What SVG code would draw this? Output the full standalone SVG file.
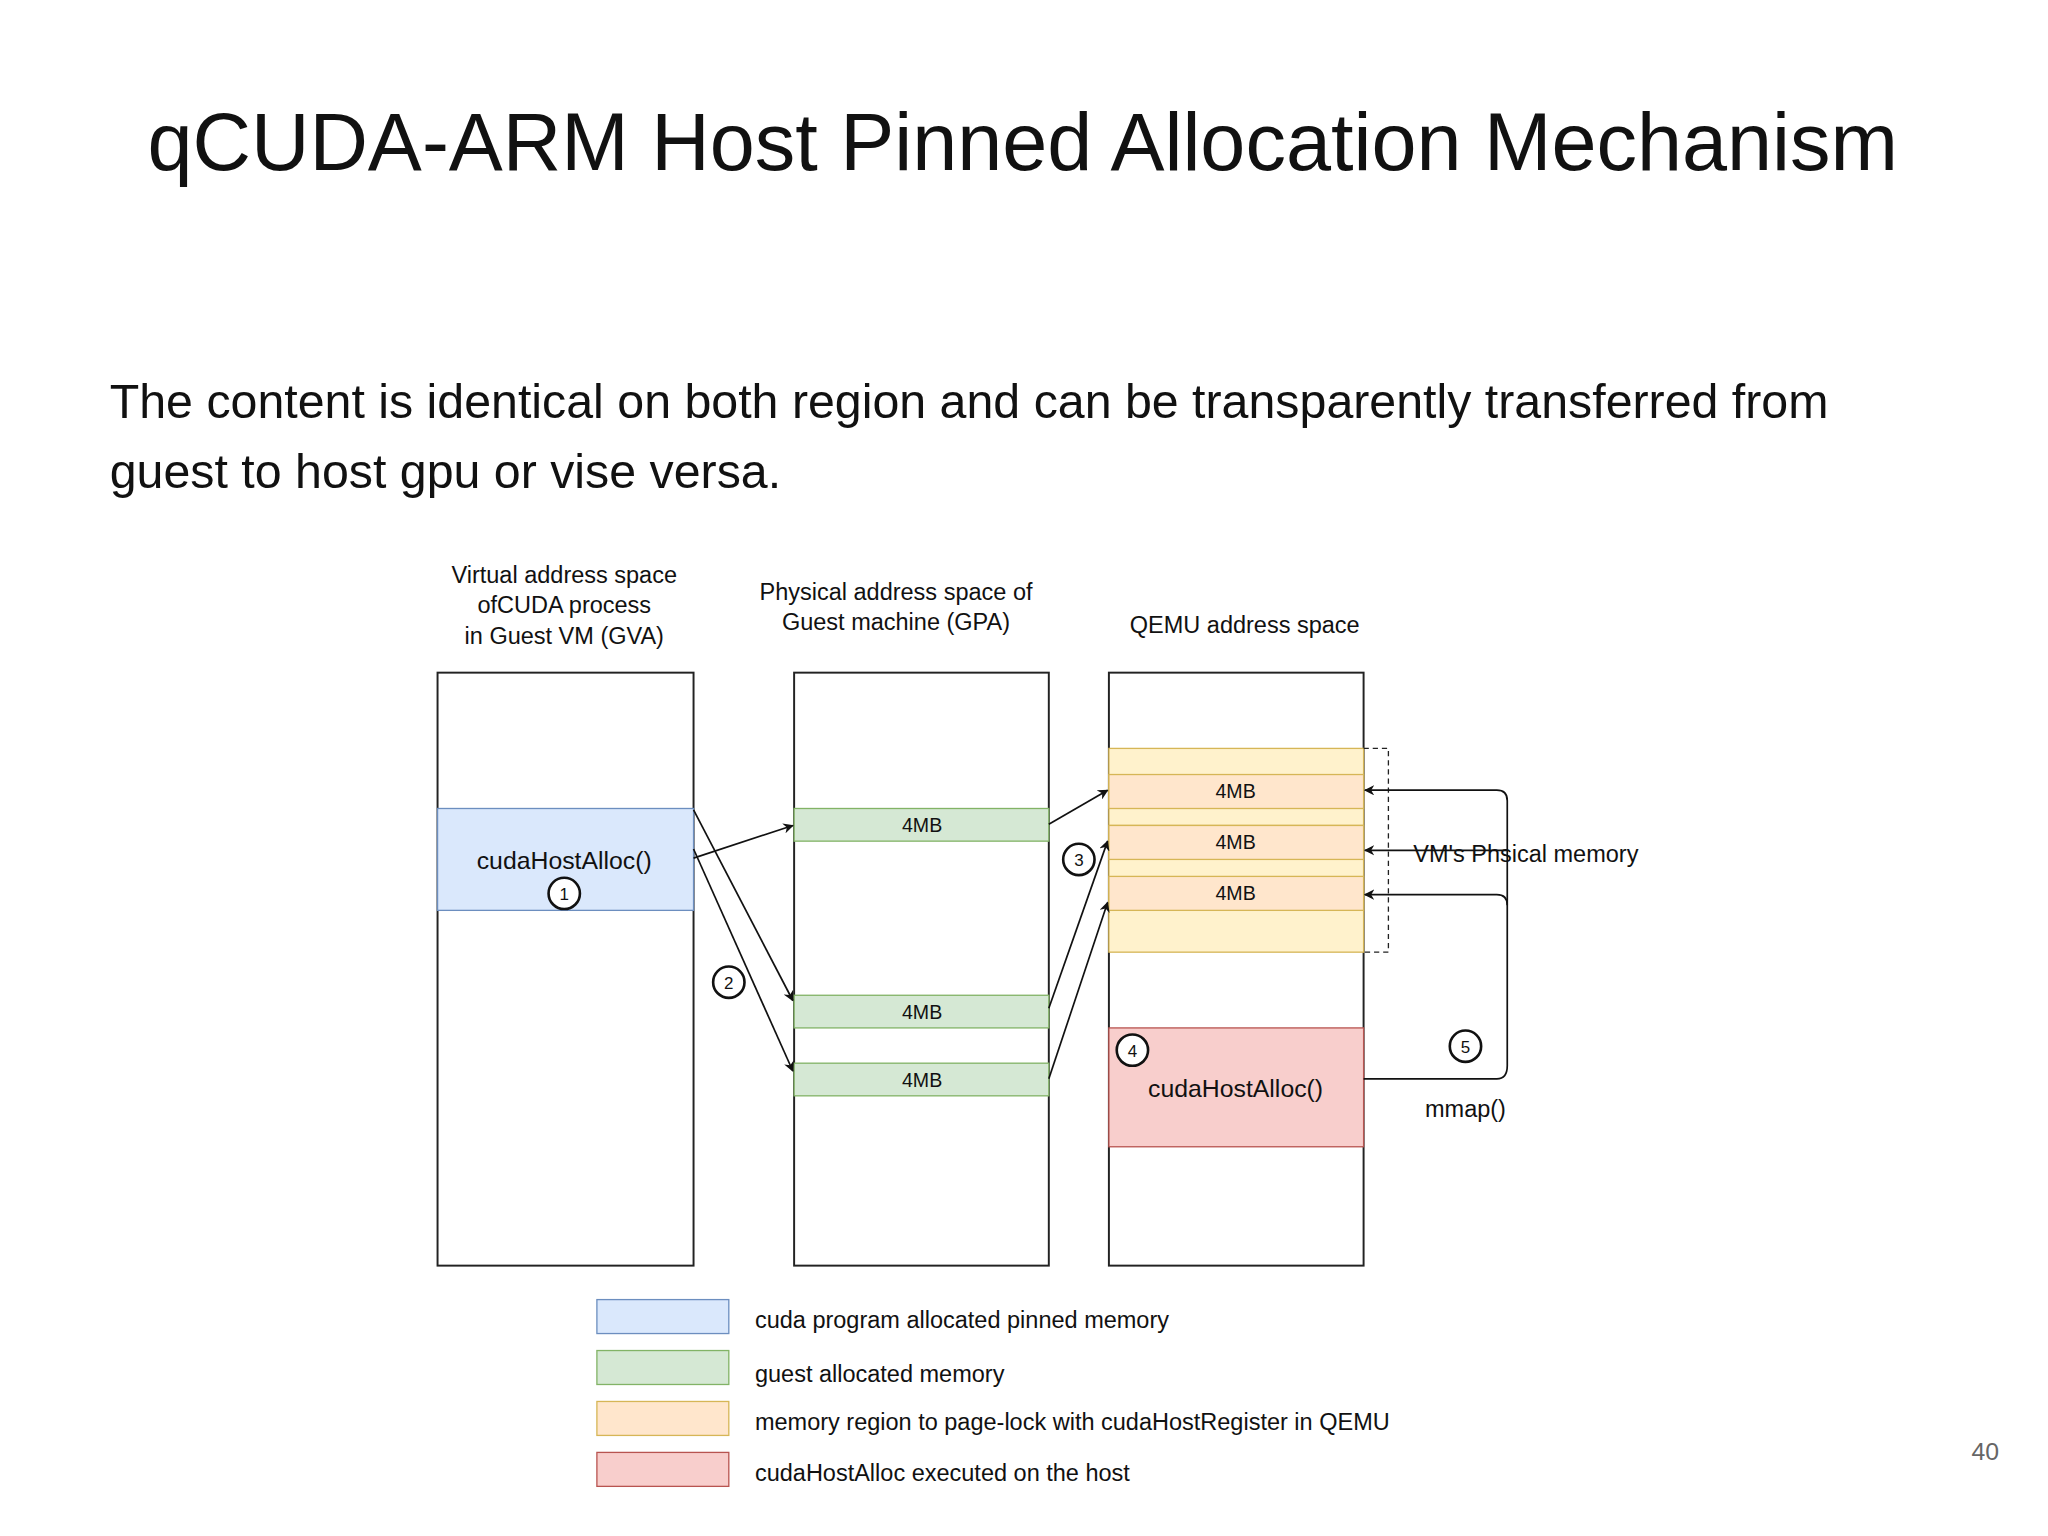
<svg xmlns="http://www.w3.org/2000/svg" width="2048" height="1536" viewBox="0 0 2048 1536">
<defs>
<style>
text{font-family:"Liberation Sans",Arial,sans-serif;fill:#111}
.hd{font-size:18px;text-anchor:middle}
.mb{font-size:15px;text-anchor:middle}
.lg{font-size:18px}
.bx{fill:#fff;stroke:#222;stroke-width:1.5}
.cn{fill:none;stroke:#111;stroke-width:1.3}
.cir{fill:#fff;stroke:#111;stroke-width:2}
.num{font-size:13px;text-anchor:middle}
</style>
<marker id="ah" viewBox="0 0 10 10" refX="9" refY="5" markerWidth="8" markerHeight="8" orient="auto" markerUnits="userSpaceOnUse"><path d="M0,0L10,5L0,10L3,5z" fill="#111"/></marker>
</defs>
<rect width="2048" height="1536" fill="#fff"/>
<g transform="scale(1.30612)">
<text x="783" y="130" font-size="62" text-anchor="middle">qCUDA-ARM Host Pinned Allocation Mechanism</text>
<text x="84" y="320" font-size="37">The content is identical on both region and can be transparently transferred from</text>
<text x="84" y="374" font-size="37">guest to host gpu or vise versa.</text>

<g id="gva">
<text class="hd" x="432" y="446">Virtual address space</text>
<text class="hd" x="432" y="469">ofCUDA process</text>
<text class="hd" x="432" y="493">in Guest VM (GVA)</text>
<rect class="bx" x="335" y="515" width="196" height="454"/>
<rect x="335" y="619" width="196" height="78" fill="#dae8fc" stroke="#6c8ebf"/>
<text x="432" y="665" font-size="19" text-anchor="middle">cudaHostAlloc()</text>
<circle class="cir" cx="432" cy="684" r="12"/><text class="num" x="432" y="689">1</text>
</g>

<g id="gpa">
<text class="hd" x="686" y="459">Physical address space of</text>
<text class="hd" x="686" y="482">Guest machine (GPA)</text>
<rect class="bx" x="608" y="515" width="195" height="454"/>
<rect x="608" y="619" width="195" height="25" fill="#d5e8d4" stroke="#82b366"/>
<text class="mb" x="706" y="637">4MB</text>
<rect x="608" y="762" width="195" height="25" fill="#d5e8d4" stroke="#82b366"/>
<text class="mb" x="706" y="780">4MB</text>
<rect x="608" y="814" width="195" height="25" fill="#d5e8d4" stroke="#82b366"/>
<text class="mb" x="706" y="832">4MB</text>
</g>

<g id="qemu">
<text class="hd" x="953" y="485">QEMU address space</text>
<rect class="bx" x="849" y="515" width="195" height="454"/>
<rect x="849" y="573" width="195" height="156" fill="#fff2cc" stroke="#d6b656"/>
<line x1="849" y1="632" x2="1044" y2="632" stroke="#d6b656"/>
<line x1="849" y1="697" x2="1044" y2="697" stroke="#d6b656"/>
<rect x="849" y="593" width="195" height="26" fill="#ffe6cc" stroke="#d6b656"/>
<rect x="849" y="632" width="195" height="26" fill="#ffe6cc" stroke="#d6b656"/>
<rect x="849" y="671" width="195" height="26" fill="#ffe6cc" stroke="#d6b656"/>
<text class="mb" x="946" y="611">4MB</text>
<text class="mb" x="946" y="650">4MB</text>
<text class="mb" x="946" y="689">4MB</text>
<path d="M1044,573H1063V729H1044" fill="none" stroke="#222" stroke-dasharray="4,3"/>
<rect x="849" y="787" width="195" height="91" fill="#f8cecc" stroke="#b85450"/>
<circle class="cir" cx="867" cy="804" r="12"/><text class="num" x="867" y="809">4</text>
<text x="946" y="840" font-size="19" text-anchor="middle">cudaHostAlloc()</text>
</g>

<g id="connectors">
<line class="cn" x1="531" y1="657" x2="607" y2="632" marker-end="url(#ah)"/>
<line class="cn" x1="531" y1="620" x2="607" y2="766" marker-end="url(#ah)"/>
<line class="cn" x1="531" y1="650" x2="607" y2="820" marker-end="url(#ah)"/>
<line class="cn" x1="803" y1="631" x2="848" y2="605" marker-end="url(#ah)"/>
<line class="cn" x1="803" y1="772" x2="848" y2="644" marker-end="url(#ah)"/>
<line class="cn" x1="803" y1="826" x2="848" y2="691" marker-end="url(#ah)"/>
<path class="cn" d="M1044,826H1146Q1154,826 1154,816V613Q1154,605 1146,605H1045" marker-end="url(#ah)"/>
<path class="cn" d="M1154,651H1045" marker-end="url(#ah)"/>
<path class="cn" d="M1154,693Q1154,685 1146,685H1045" marker-end="url(#ah)"/>
</g>

<g id="labels">
<circle class="cir" cx="558" cy="752" r="12"/><text class="num" x="558" y="757">2</text>
<circle class="cir" cx="826" cy="658" r="12"/><text class="num" x="826" y="663">3</text>
<circle class="cir" cx="1122" cy="801" r="12"/><text class="num" x="1122" y="806">5</text>
<text x="1082" y="660" font-size="18">VM's Phsical memory</text>
<text x="1122" y="855" font-size="18" text-anchor="middle">mmap()</text>
</g>

<g id="legend">
<rect x="457" y="995" width="101" height="26" fill="#dae8fc" stroke="#6c8ebf"/>
<rect x="457" y="1034" width="101" height="26" fill="#d5e8d4" stroke="#82b366"/>
<rect x="457" y="1073" width="101" height="26" fill="#ffe6cc" stroke="#d6b656"/>
<rect x="457" y="1112" width="101" height="26" fill="#f8cecc" stroke="#b85450"/>
<text class="lg" x="578" y="1017">cuda program allocated pinned memory</text>
<text class="lg" x="578" y="1058">guest allocated memory</text>
<text class="lg" x="578" y="1095">memory region to page-lock with cudaHostRegister in QEMU</text>
<text class="lg" x="578" y="1134">cudaHostAlloc executed on the host</text>
</g>
<text x="1520" y="1118" font-size="19" text-anchor="middle" style="fill:#666">40</text>
</g>
</svg>
